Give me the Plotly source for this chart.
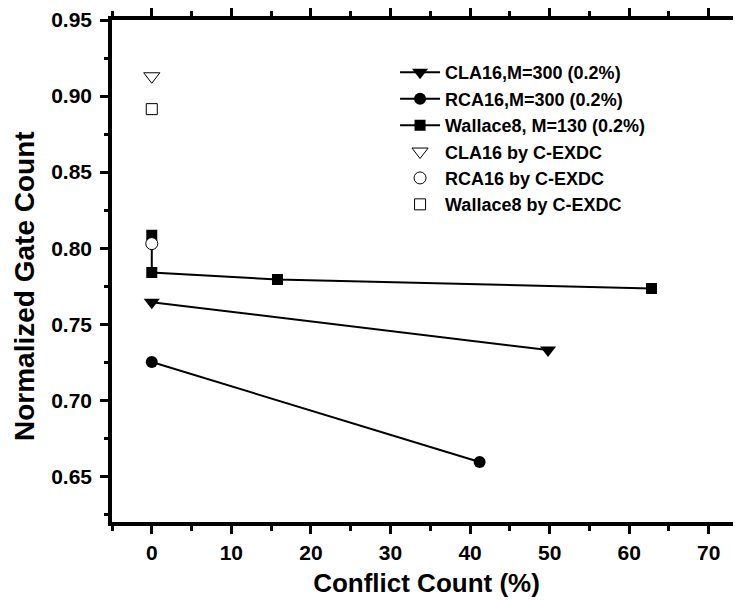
import plotly.graph_objects as go

# ---- data ----
cla16_x = [0, 49.8]
cla16_y = [0.7645, 0.733]
rca16_x = [0, 41.2]
rca16_y = [0.7252, 0.6594]
wal8_x = [0, 0, 15.8, 62.8]
wal8_y = [0.8085, 0.784, 0.7794, 0.7735]
cla16_c_x = [0]
cla16_c_y = [0.913]
rca16_c_x = [0]
rca16_c_y = [0.803]
wal8_c_x = [0]
wal8_c_y = [0.8914]

names = ["CLA16,M=300 (0.2%)", "RCA16,M=300 (0.2%)", "Wallace8, M=130 (0.2%)",
         "CLA16 by C-EXDC", "RCA16 by C-EXDC", "Wallace8 by C-EXDC"]

FONT = "Liberation Sans, Arial, sans-serif"

fig = go.Figure()
fig.add_trace(go.Scatter(x=cla16_x, y=cla16_y, name=names[0], mode="lines+markers",
                         line=dict(color="black", width=2),
                         marker=dict(symbol="triangle-down", size=14, color="black")))
fig.add_trace(go.Scatter(x=rca16_x, y=rca16_y, name=names[1], mode="lines+markers",
                         line=dict(color="black", width=2),
                         marker=dict(symbol="circle", size=12, color="black")))
fig.add_trace(go.Scatter(x=wal8_x, y=wal8_y, name=names[2], mode="lines+markers",
                         line=dict(color="black", width=2),
                         marker=dict(symbol="square", size=11, color="black")))
fig.add_trace(go.Scatter(x=cla16_c_x, y=cla16_c_y, name=names[3], mode="markers",
                         marker=dict(symbol="triangle-down", size=14, color="white",
                                     line=dict(color="black", width=1))))
fig.add_trace(go.Scatter(x=rca16_c_x, y=rca16_c_y, name=names[4], mode="markers",
                         marker=dict(symbol="circle", size=12, color="white",
                                     line=dict(color="black", width=1))))
fig.add_trace(go.Scatter(x=wal8_c_x, y=wal8_c_y, name=names[5], mode="markers",
                         marker=dict(symbol="square", size=11, color="white",
                                     line=dict(color="black", width=1))))

# the page body has an 8px default margin, so the figure is 8px smaller
OFF = 8
W, H = 741 - OFF, 600 - OFF
L, R, T, B = 112 - OFF, 0, 20 - OFF, 78
pw = W - L - R
ph = H - T - B
PX_PER_UNIT = 7.957

fig.update_layout(
    width=W, height=H,
    margin=dict(l=L, r=R, t=T, b=B, pad=0),
    paper_bgcolor="white", plot_bgcolor="white",
    font=dict(family=FONT, color="black"),
    showlegend=True,
    legend=dict(x=0.45, y=0.932, xanchor="left", yanchor="top",
                bgcolor="rgba(0,0,0,0)", borderwidth=0,
                font=dict(family=FONT, size=18, color="black", weight="bold"),
                itemwidth=40),
    xaxis=dict(range=[-5, -5 + pw / PX_PER_UNIT], showgrid=False, zeroline=False,
               showline=True, linecolor="black", linewidth=3.5, mirror="allticks",
               ticks="outside", ticklen=8, tickwidth=3, tickcolor="black",
               tick0=0, dtick=10, ticklabelstandoff=1,
               minor=dict(ticks="outside", ticklen=5, tickwidth=3, dtick=5, tickcolor="black"),
               tickfont=dict(family=FONT, size=21, color="black", weight="bold"),
               title=dict(text="Conflict Count (%)", standoff=12,
                          font=dict(family=FONT, size=26, color="black", weight="bold"))),
    yaxis=dict(range=[0.62, 0.95], showgrid=False, zeroline=False,
               showline=True, linecolor="black", linewidth=3.5,
               ticks="outside", ticklen=8, tickwidth=3, tickcolor="black",
               tick0=0.65, dtick=0.05, tickformat=".2f", ticklabelstandoff=4,
               minor=dict(ticks="outside", ticklen=4, tickwidth=3, dtick=0.025, tickcolor="black"),
               tickfont=dict(family=FONT, size=21, color="black", weight="bold")),
    annotations=[dict(text="Normalized Gate Count", textangle=-90,
                      xref="paper", yref="paper",
                      x=-(112 - 24) / pw, y=(522 - 286) / ph,
                      xanchor="center", yanchor="middle", showarrow=False,
                      font=dict(family=FONT, size=28, color="black", weight="bold"))],
)

fig.write_html("out.html")
